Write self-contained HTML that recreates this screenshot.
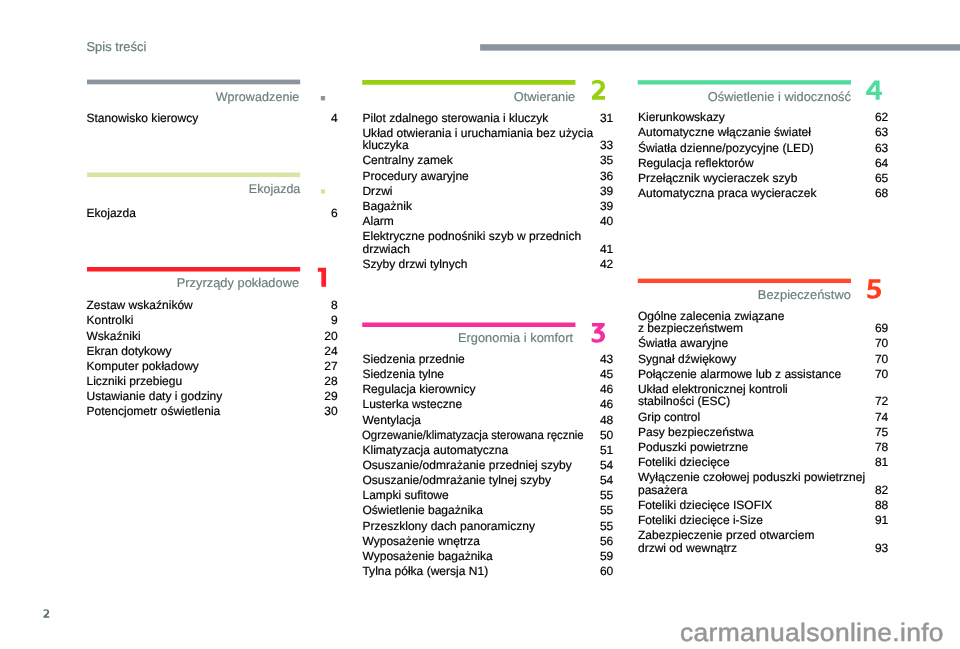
<!DOCTYPE html>
<html lang="pl"><head><meta charset="utf-8"><title>Spis treści</title>
<style>
html,body{margin:0;padding:0;background:#fff;}
body{width:960px;height:649px;position:relative;overflow:hidden;font-family:"Liberation Sans",sans-serif;text-rendering:geometricPrecision;}
#pg{position:absolute;left:0;top:0;width:960px;height:649px;will-change:transform;}
.b{position:absolute;}
.t{position:absolute;letter-spacing:0.015px;-webkit-text-stroke:0.2px #000;font-size:12px;line-height:14px;height:14px;white-space:nowrap;color:#000;}
.n{position:absolute;-webkit-text-stroke:0.2px #000;font-size:12px;line-height:14px;height:14px;white-space:nowrap;color:#000;text-align:right;width:40px;}
.h{position:absolute;-webkit-text-stroke:0.2px #6a7f7f;letter-spacing:0.09px;font-size:12.5px;line-height:14px;height:14px;white-space:nowrap;color:#6a7f7f;text-align:right;width:213px;}
.sq{position:absolute;}
svg{position:absolute;left:0;top:0;}
</style></head><body>
<div id="pg">

<div class="t" style="left:86.4px;top:39.50px;font-size:12.8px;color:#6a7f7f;letter-spacing:0.1px;-webkit-text-stroke:0.25px #6a7f7f">Spis treści</div>
<div class="h" style="left:86.40px;top:90px;font-size:12.5px;letter-spacing:0.09px">Wprowadzenie</div>
<div class="t" style="left:86.50px;top:111px">Stanowisko kierowcy</div>
<div class="n" style="left:297.60px;top:111px">4</div>
<div class="h" style="left:87.30px;top:182px;font-size:12.5px;letter-spacing:0.00px">Ekojazda</div>
<div class="t" style="left:86.50px;top:206px">Ekojazda</div>
<div class="n" style="left:297.60px;top:206px">6</div>
<div class="h" style="left:86.10px;top:276px;font-size:12.8px;letter-spacing:0.04px">Przyrządy pokładowe</div>
<div class="t" style="left:86.50px;top:298px">Zestaw wskaźników</div>
<div class="n" style="left:297.60px;top:298px">8</div>
<div class="t" style="left:86.50px;top:313px">Kontrolki</div>
<div class="n" style="left:297.60px;top:313px">9</div>
<div class="t" style="left:86.50px;top:329px">Wskaźniki</div>
<div class="n" style="left:297.60px;top:329px">20</div>
<div class="t" style="left:86.50px;top:344px">Ekran dotykowy</div>
<div class="n" style="left:297.60px;top:344px">24</div>
<div class="t" style="left:86.50px;top:359px">Komputer pokładowy</div>
<div class="n" style="left:297.60px;top:359px">27</div>
<div class="t" style="left:86.50px;top:374px">Liczniki przebiegu</div>
<div class="n" style="left:297.60px;top:374px">28</div>
<div class="t" style="left:86.50px;top:389px">Ustawianie daty i godziny</div>
<div class="n" style="left:297.60px;top:389px">29</div>
<div class="t" style="left:86.50px;top:404px">Potencjometr oświetlenia</div>
<div class="n" style="left:297.60px;top:404px">30</div>
<div class="h" style="left:362.25px;top:90px;font-size:12.8px;letter-spacing:0.04px">Otwieranie</div>
<div class="t" style="left:362.45px;top:111px">Pilot zdalnego sterowania i kluczyk</div>
<div class="n" style="left:573.25px;top:111px">31</div>
<div class="t" style="left:362.45px;top:126px">Układ otwierania i uruchamiania bez użycia</div>
<div class="t" style="left:362.45px;top:138px">kluczyka</div>
<div class="n" style="left:573.25px;top:138px">33</div>
<div class="t" style="left:362.45px;top:153px">Centralny zamek</div>
<div class="n" style="left:573.25px;top:153px">35</div>
<div class="t" style="left:362.45px;top:169px">Procedury awaryjne</div>
<div class="n" style="left:573.25px;top:169px">36</div>
<div class="t" style="left:362.45px;top:184px">Drzwi</div>
<div class="n" style="left:573.25px;top:184px">39</div>
<div class="t" style="left:362.45px;top:199px">Bagażnik</div>
<div class="n" style="left:573.25px;top:199px">39</div>
<div class="t" style="left:362.45px;top:214px">Alarm</div>
<div class="n" style="left:573.25px;top:214px">40</div>
<div class="t" style="left:362.45px;top:229px">Elektryczne podnośniki szyb w przednich</div>
<div class="t" style="left:362.45px;top:242px">drzwiach</div>
<div class="n" style="left:573.25px;top:242px">41</div>
<div class="t" style="left:362.45px;top:257px">Szyby drzwi tylnych</div>
<div class="n" style="left:573.25px;top:257px">42</div>
<div class="h" style="left:360.15px;top:331px;font-size:12.8px;letter-spacing:0.04px">Ergonomia i komfort</div>
<div class="t" style="left:362.45px;top:352px">Siedzenia przednie</div>
<div class="n" style="left:573.25px;top:352px">43</div>
<div class="t" style="left:362.45px;top:367px">Siedzenia tylne</div>
<div class="n" style="left:573.25px;top:367px">45</div>
<div class="t" style="left:362.45px;top:382px">Regulacja kierownicy</div>
<div class="n" style="left:573.25px;top:382px">46</div>
<div class="t" style="left:362.45px;top:397px">Lusterka wsteczne</div>
<div class="n" style="left:573.25px;top:397px">46</div>
<div class="t" style="left:362.45px;top:413px">Wentylacja</div>
<div class="n" style="left:573.25px;top:413px">48</div>
<div class="t" style="left:362.45px;top:428px;transform:scaleX(0.947);transform-origin:0 0">Ogrzewanie/klimatyzacja sterowana ręcznie</div>
<div class="n" style="left:573.25px;top:428px">50</div>
<div class="t" style="left:362.45px;top:443px">Klimatyzacja automatyczna</div>
<div class="n" style="left:573.25px;top:443px">51</div>
<div class="t" style="left:362.45px;top:458px">Osuszanie/odmrażanie przedniej szyby</div>
<div class="n" style="left:573.25px;top:458px">54</div>
<div class="t" style="left:362.45px;top:473px">Osuszanie/odmrażanie tylnej szyby</div>
<div class="n" style="left:573.25px;top:473px">54</div>
<div class="t" style="left:362.45px;top:488px">Lampki sufitowe</div>
<div class="n" style="left:573.25px;top:488px">55</div>
<div class="t" style="left:362.45px;top:503px">Oświetlenie bagażnika</div>
<div class="n" style="left:573.25px;top:503px">55</div>
<div class="t" style="left:362.45px;top:519px">Przeszklony dach panoramiczny</div>
<div class="n" style="left:573.25px;top:519px">55</div>
<div class="t" style="left:362.45px;top:534px">Wyposażenie wnętrza</div>
<div class="n" style="left:573.25px;top:534px">56</div>
<div class="t" style="left:362.45px;top:549px">Wyposażenie bagażnika</div>
<div class="n" style="left:573.25px;top:549px">59</div>
<div class="t" style="left:362.45px;top:564px">Tylna półka (wersja N1)</div>
<div class="n" style="left:573.25px;top:564px">60</div>
<div class="h" style="left:637.95px;top:90px;font-size:12.8px;letter-spacing:0.04px">Oświetlenie i widoczność</div>
<div class="t" style="left:637.95px;top:110px">Kierunkowskazy</div>
<div class="n" style="left:848.25px;top:110px">62</div>
<div class="t" style="left:637.95px;top:125px;letter-spacing:0.030px">Automatyczne włączanie świateł</div>
<div class="n" style="left:848.25px;top:125px">63</div>
<div class="t" style="left:637.95px;top:141px">Światła dzienne/pozycyjne (LED)</div>
<div class="n" style="left:848.25px;top:141px">63</div>
<div class="t" style="left:637.95px;top:156px">Regulacja reflektorów</div>
<div class="n" style="left:848.25px;top:156px">64</div>
<div class="t" style="left:637.95px;top:171px;letter-spacing:0.050px">Przełącznik wycieraczek szyb</div>
<div class="n" style="left:848.25px;top:171px">65</div>
<div class="t" style="left:637.95px;top:186px">Automatyczna praca wycieraczek</div>
<div class="n" style="left:848.25px;top:186px">68</div>
<div class="h" style="left:637.85px;top:288px;font-size:12.8px;letter-spacing:0.04px">Bezpieczeństwo</div>
<div class="t" style="left:637.95px;top:309px">Ogólne zalecenia związane</div>
<div class="t" style="left:637.95px;top:321px">z bezpieczeństwem</div>
<div class="n" style="left:848.25px;top:321px">69</div>
<div class="t" style="left:637.95px;top:336px">Światła awaryjne</div>
<div class="n" style="left:848.25px;top:336px">70</div>
<div class="t" style="left:637.95px;top:352px">Sygnał dźwiękowy</div>
<div class="n" style="left:848.25px;top:352px">70</div>
<div class="t" style="left:637.95px;top:367px">Połączenie alarmowe lub z assistance</div>
<div class="n" style="left:848.25px;top:367px">70</div>
<div class="t" style="left:637.95px;top:382px">Układ elektronicznej kontroli</div>
<div class="t" style="left:637.95px;top:394px">stabilności (ESC)</div>
<div class="n" style="left:848.25px;top:394px">72</div>
<div class="t" style="left:637.95px;top:410px">Grip control</div>
<div class="n" style="left:848.25px;top:410px">74</div>
<div class="t" style="left:637.95px;top:425px">Pasy bezpieczeństwa</div>
<div class="n" style="left:848.25px;top:425px">75</div>
<div class="t" style="left:637.95px;top:440px">Poduszki powietrzne</div>
<div class="n" style="left:848.25px;top:440px">78</div>
<div class="t" style="left:637.95px;top:455px">Foteliki dziecięce</div>
<div class="n" style="left:848.25px;top:455px">81</div>
<div class="t" style="left:637.95px;top:470px;letter-spacing:0.050px">Wyłączenie czołowej poduszki powietrznej</div>
<div class="t" style="left:637.95px;top:483px">pasażera</div>
<div class="n" style="left:848.25px;top:483px">82</div>
<div class="t" style="left:637.95px;top:498px">Foteliki dziecięce ISOFIX</div>
<div class="n" style="left:848.25px;top:498px">88</div>
<div class="t" style="left:637.95px;top:513px">Foteliki dziecięce i-Size</div>
<div class="n" style="left:848.25px;top:513px">91</div>
<div class="t" style="left:637.95px;top:528px;letter-spacing:0.040px">Zabezpieczenie przed otwarciem</div>
<div class="t" style="left:637.95px;top:541px">drzwi od wewnątrz</div>
<div class="n" style="left:848.25px;top:541px">93</div>
<svg width="960" height="649" viewBox="0 0 960 649">
<rect x="480.1" y="44.2" width="480" height="6.45" fill="#8c959d"/>
<rect x="87.00" y="79.60" width="213.20" height="4.70" fill="#8c959d"/>
<rect x="320.80" y="96.00" width="4.3" height="4.4" fill="#8c959d"/>
<rect x="87.00" y="172.50" width="213.20" height="4.60" fill="#d8e5a4"/>
<rect x="320.80" y="189.20" width="4.3" height="4.4" fill="#d7e3a6"/>
<rect x="87.00" y="267.00" width="213.20" height="4.50" fill="#ff1f2a"/>
<rect x="362.25" y="80.00" width="213.20" height="4.75" fill="#97d011"/>
<rect x="362.25" y="322.50" width="213.20" height="4.50" fill="#f5309e"/>
<rect x="637.75" y="80.20" width="213.20" height="4.30" fill="#4fdc9c"/>
<rect x="637.75" y="278.65" width="213.20" height="4.40" fill="#ff4a2c"/>
<path transform="translate(305,258) scale(0.05236)" fill="#ff1f2a" fill-rule="evenodd" d="M245,188 L403,188 L403,550 L312,550 L312,262 L245,262 Z"/>
<path transform="translate(580,72) scale(0.05236)" fill="#97d011" fill-rule="evenodd" d="M232,176 C262,160 300,152 335,152 C420,152 476,195 476,268 C476,320 450,355 410,395 L345,460 L478,460 L478,530 L228,530 L228,462 L345,350 C380,315 395,295 395,272 C395,235 370,213 330,213 C295,213 262,225 232,245 Z"/>
<path transform="translate(580,314) scale(0.05236)" fill="#f5309e" fill-rule="evenodd" d="M228,172 L472,172 L472,225 L385,312 C440,325 478,365 478,420 C478,500 415,548 325,548 C285,548 250,540 222,525 L222,455 C255,475 290,485 325,485 C365,485 392,462 392,425 C392,390 365,372 320,372 L270,372 L270,322 L350,240 L228,240 Z"/>
<path transform="translate(855,72) scale(0.05236)" fill="#4fdc9c" fill-rule="evenodd" d="M370,160 L470,160 L470,375 L515,375 L515,437 L470,437 L470,528 L395,528 L395,437 L212,437 L212,378 Z M395,240 L395,378 L297,378 Z"/>
<path transform="translate(855,270) scale(0.05236)" fill="#ff3d1f" fill-rule="evenodd" d="M265,178 L485,178 L485,245 L333,245 L328,318 C345,312 365,310 385,312 C455,318 497,360 497,422 C497,500 435,548 345,548 C300,548 262,540 235,525 L235,455 C270,478 310,488 345,488 C388,488 412,462 412,425 C412,390 385,372 342,372 C305,372 272,380 243,390 Z"/>
<path transform="translate(38.1604,605.652) scale(0.02320,0.02302)" fill="#5b6f6f" d="M232,176 C262,160 300,152 335,152 C420,152 476,195 476,268 C476,320 450,355 410,395 L345,460 L478,460 L478,530 L228,530 L228,462 L345,350 C380,315 395,295 395,272 C395,235 370,213 330,213 C295,213 262,225 232,245 Z"/>
</svg>
<div class="b" style="left:680.3px;top:617.00px;font-size:25.2px;line-height:30px;color:#969696;white-space:nowrap;letter-spacing:0.3px;-webkit-text-stroke:0.5px #969696;transform:translateY(0.5px) scaleX(1.05);transform-origin:0 0">carmanualsonline.info</div>
</div></body></html>
